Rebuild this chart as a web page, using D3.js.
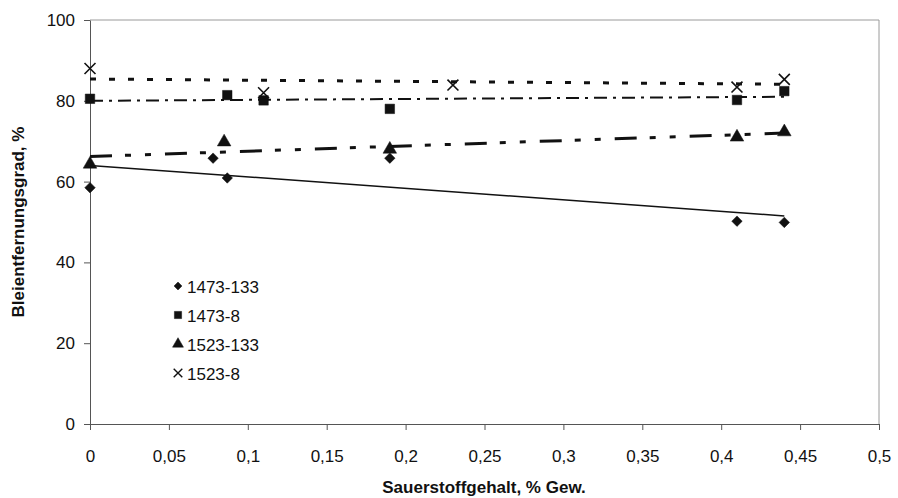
<!DOCTYPE html>
<html>
<head>
<meta charset="utf-8">
<script src="https://cdn.jsdelivr.net/npm/d3@7"></script>
<style>
  html, body { margin: 0; padding: 0; background: #fff; }
  svg { display: block; }
  text { font-family: "Liberation Sans", Arial, sans-serif; fill: #111; }
</style>
</head>
<body>
<svg id="chart" width="898" height="498"></svg>
<script>
// Oxygen content (% by weight) and lead removal (%) for four test series
const seriesNames = ["1473-133", "1473-8", "1523-133", "1523-8"];

const x1473_133 = [0, 0.078, 0.087, 0.19, 0.41, 0.44];
const y1473_133 = [58.5, 65.8, 60.9, 65.8, 50.2, 49.9];

const x1473_8 = [0, 0.087, 0.11, 0.19, 0.41, 0.44];
const y1473_8 = [80.5, 81.4, 80.1, 78.0, 80.2, 82.4];

const x1523_133 = [0, 0.085, 0.19, 0.41, 0.44];
const y1523_133 = [64.3, 69.8, 68.0, 71.0, 72.3];

const x1523_8 = [0, 0.11, 0.23, 0.41, 0.44];
const y1523_8 = [88.0, 82.0, 83.9, 83.4, 85.3];

// Linear trend lines: values at x = 0 and x = 0.44
const trendX = [0, 0.44];
const trend1473_133 = [64.0, 51.5];
const trend1473_8 = [80.0, 81.0];
const trend1523_133 = [66.2, 72.0];
const trend1523_8 = [85.4, 84.1];

const xTicks = [0, 0.05, 0.1, 0.15, 0.2, 0.25, 0.3, 0.35, 0.4, 0.45, 0.5];
const yTicks = [0, 20, 40, 60, 80, 100];

const xTitle = "Sauerstoffgehalt, % Gew.";
const yTitle = "Bleientfernungsgrad, %";

const svg = d3.select("#chart");
const m = { left: 90, right: 879, top: 20, bottom: 424 };

const x = d3.scaleLinear().domain([0, 0.5]).range([m.left, m.right]);
const y = d3.scaleLinear().domain([0, 100]).range([m.bottom, m.top]);

// plot frame (top and right edges, light grey)
svg.append("path")
  .attr("d", `M${m.left},${m.top}H${m.right}V${m.bottom}`)
  .attr("fill", "none").attr("stroke", "#9a9a9a").attr("stroke-width", 1);

const fmt = d => String(d).replace(".", ",");

// x axis
const gx = svg.append("g").attr("transform", `translate(0,${m.bottom})`)
  .call(d3.axisBottom(x).tickValues(xTicks).tickFormat(fmt).tickSize(6).tickSizeOuter(0).tickPadding(20));
gx.select(".domain").attr("stroke", "#555");
gx.selectAll(".tick line").attr("stroke", "#555");
gx.selectAll(".tick text").attr("font-size", 17).attr("fill", "#111")
  .attr("font-family", "Liberation Sans, Arial, sans-serif");

// y axis
const gy = svg.append("g").attr("transform", `translate(${m.left},0)`)
  .call(d3.axisLeft(y).tickValues(yTicks).tickSize(6).tickSizeOuter(0).tickPadding(9));
gy.select(".domain").attr("stroke", "#555");
gy.selectAll(".tick line").attr("stroke", "#555");
gy.selectAll(".tick text").attr("font-size", 17).attr("fill", "#111")
  .attr("font-family", "Liberation Sans, Arial, sans-serif");

// axis titles
svg.append("text").attr("x", 484).attr("y", 493).attr("text-anchor", "middle")
  .attr("font-size", 17).attr("font-weight", "bold").text(xTitle);
svg.append("text").attr("transform", "translate(24,222) rotate(-90)")
  .attr("text-anchor", "middle").attr("font-size", 17).attr("font-weight", "bold").text(yTitle);

// trend lines
const line = d3.line().x(d => x(d[0])).y(d => y(d[1]));
const trends = [
  { v: trend1473_133, w: 1.5, dash: null },
  { v: trend1473_8, w: 2, dash: "13,6,3,6" },
  { v: trend1523_133, w: 3, dash: "22,13,6,14,6,14" },
  { v: trend1523_8, w: 3, dash: "6,13" }
];
trends.forEach(t => {
  svg.append("path")
    .datum(trendX.map((xv, i) => [xv, t.v[i]]))
    .attr("d", line).attr("fill", "none").attr("stroke", "#111")
    .attr("stroke-width", t.w).attr("stroke-dasharray", t.dash);
});

// marker shapes
const symType = {
  diamond: d3.symbolDiamond2,
  square: d3.symbolSquare,
  triangle: d3.symbolTriangle,
  cross: d3.symbolX
};
const kinds = ["diamond", "square", "triangle", "cross"];

function drawMarks(xs, ys, kind, size) {
  const pts = xs.map((xv, i) => [xv, ys[i]]);
  svg.append("g").selectAll("path").data(pts).join("path")
    .attr("transform", d => `translate(${x(d[0])},${y(d[1])})`)
    .attr("d", d3.symbol().type(symType[kind]).size(size))
    .attr("fill", kind === "cross" ? "none" : "#111")
    .attr("stroke", "#111")
    .attr("stroke-width", kind === "cross" ? 1.6 : 0.5);
}
drawMarks(x1473_133, y1473_133, "diamond", 70);
drawMarks(x1473_8, y1473_8, "square", 90);
drawMarks(x1523_133, y1523_133, "triangle", 80);
drawMarks(x1523_8, y1523_8, "cross", 80);

// legend
const legendSizes = [40, 52, 52, 50];
const lg = svg.append("g").attr("transform", "translate(178,286)");
seriesNames.forEach((name, i) => {
  const row = lg.append("g").attr("transform", `translate(0,${i * 29})`);
  row.append("path")
    .attr("d", d3.symbol().type(symType[kinds[i]]).size(legendSizes[i]))
    .attr("fill", kinds[i] === "cross" ? "none" : "#111")
    .attr("stroke", "#111").attr("stroke-width", kinds[i] === "cross" ? 1.4 : 0.5);
  row.append("text").attr("x", 9).attr("y", 6.5).attr("font-size", 17).text(name);
});
</script>
</body>
</html>
